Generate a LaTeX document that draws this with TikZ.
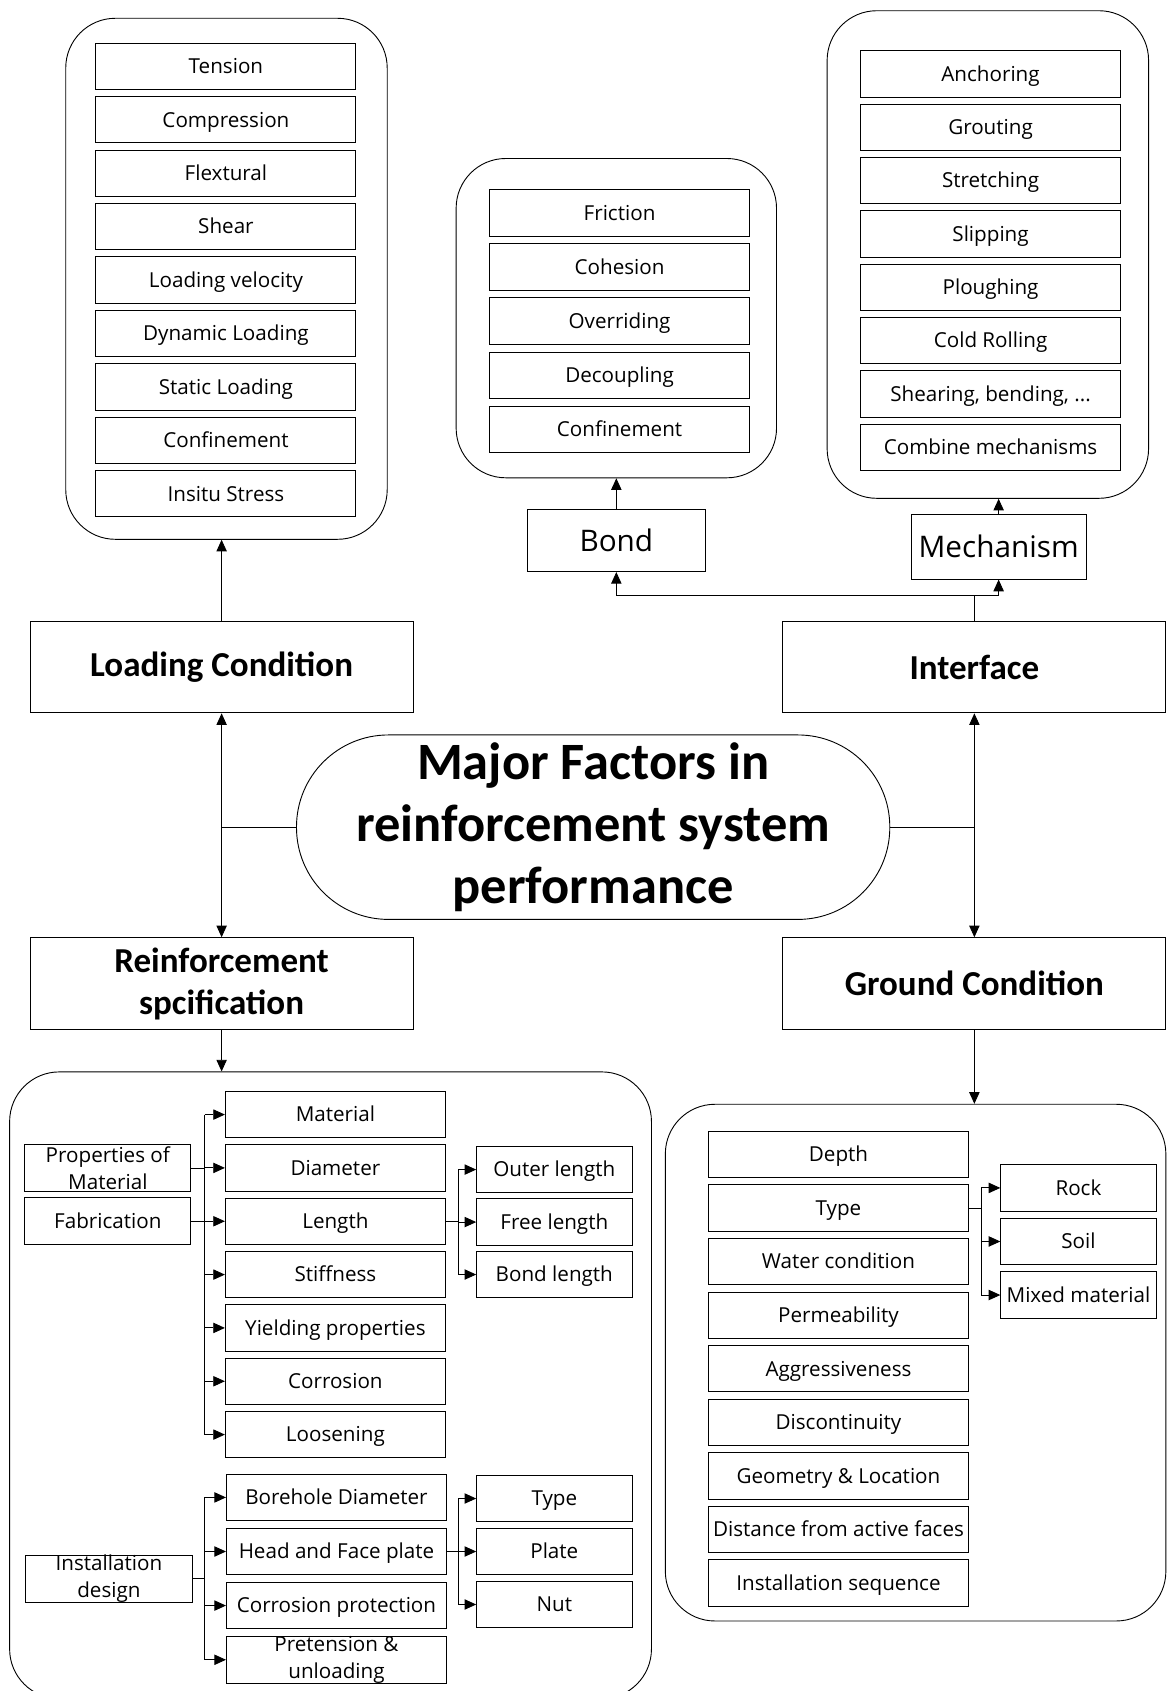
\documentclass[tikz,border=0pt]{standalone}
\usepackage{fontspec}
\setmainfont{Open Sans}
\newfontfamily\headfont{Carlito}
\usetikzlibrary{positioning,arrows.meta}

\begin{document}
\begin{tikzpicture}[x=0.025cm, y=-0.025cm, node distance=0.142cm, line width=0.6pt]
    % Style definitions for the boxes
    \tikzset{listbox/.style={rectangle, draw=black, minimum width=6.025cm, minimum height=1.075cm,
             inner sep=0pt, align=center, text height=9.7pt, text depth=0pt,
             font=\fontsize{13.6}{17.5}\selectfont},
             twoline/.style={text height={}, text depth={}},
             midbox/.style={listbox, minimum width=5.1cm},
             endbox/.style={listbox, minimum width=3.6cm},
             srcbox/.style={listbox, minimum width=3.85cm},
             groupbox/.style={rectangle, rounded corners=1.15cm, draw=black, inner sep=0pt},
             headbox/.style={rectangle, draw=black, minimum width=8.875cm, minimum height=2.125cm,
             align=center, font=\headfont\bfseries\fontsize{23.1}{27.6}\selectfont},
             bigbox/.style={rectangle, draw=black, inner sep=0pt, font=\fontsize{19.6}{23}\selectfont}}
    \tikzstyle{arrow} = [->,>={Triangle[length=0.27cm,width=0.24cm]}]

    \useasboundingbox (0,0) rectangle (1086,1568);

    % Centre
    \node (major) [draw, rounded corners=2.13cm, minimum width=13.75cm, minimum height=4.275cm,
          align=center, inner sep=0pt, font=\headfont\bfseries\fontsize{34.6}{41}\selectfont]
          at (550,767) {Major Factors in\\reinforcement system\\performance};

    % Main factor boxes
    \node (loadc) [headbox] at (205.5,618.5) {Loading Condition};
    \node (intf) [headbox] at (903.5,618.5) {Interface};
    \node (reinf) [headbox] at (205.5,912) {Reinforcement\\spcification};
    \node (grnd) [headbox] at (903.5,912) {Ground Condition};

    % Group frames
    \node (loadgrp) [groupbox, minimum width=7.45cm, minimum height=12.075cm] at (210,258.5) {};
    \node (bondgrp) [groupbox, minimum width=7.425cm, minimum height=7.4cm] at (571.5,295) {};
    \node (mechgrp) [groupbox, minimum width=7.45cm, minimum height=11.3cm] at (916,236) {};
    \node (reingrp) [groupbox, minimum width=14.875cm, minimum height=14.525cm] at (306.5,1284.5) {};
    \node (grndgrp) [groupbox, minimum width=11.6cm, minimum height=11.975cm] at (849,1263.5) {};

    % Loading condition list
    \node (ten) [listbox] at (209.5,61.5) {Tension};
    \node (comp) [listbox, below=of ten] {Compression};
    \node (flex) [listbox, below=of comp] {Flextural};
    \node (shear) [listbox, below=of flex] {Shear};
    \node (lvel) [listbox, below=of shear] {Loading velocity};
    \node (dyn) [listbox, below=of lvel] {Dynamic Loading};
    \node (stat) [listbox, below=of dyn] {Static Loading};
    \node (conf) [listbox, below=of stat] {Confinement};
    \node (insitu) [listbox, below=of conf] {Insitu Stress};

    % Bond list
    \node (bond) [bigbox, minimum width=4.125cm, minimum height=1.45cm] at (571.5,501) {Bond};
    \node (fric) [listbox] at (574.5,197.5) {Friction};
    \node (coh) [listbox, below=0.157cm of fric] {Cohesion};
    \node (over) [listbox, below=0.157cm of coh] {Overriding};
    \node (dec) [listbox, below=0.157cm of over] {Decoupling};
    \node (bconf) [listbox, below=0.157cm of dec] {Confinement};

    % Mechanism list
    \node (mech) [bigbox, minimum width=4.05cm, minimum height=1.5cm] at (926,507) {Mechanism};
    \node (anch) [listbox] at (918.5,68.5) {Anchoring};
    \node (grout) [listbox, below=0.14cm of anch] {Grouting};
    \node (stret) [listbox, below=0.14cm of grout] {Stretching};
    \node (slip) [listbox, below=0.14cm of stret] {Slipping};
    \node (plough) [listbox, below=0.14cm of slip] {Ploughing};
    \node (cold) [listbox, below=0.14cm of plough] {Cold Rolling};
    \node (shbend) [listbox, below=0.14cm of cold] {Shearing, bending, ...};
    \node (combi) [listbox, below=0.14cm of shbend] {Combine mechanisms};

    % Reinforcement specification
    \node (prop) [srcbox, twoline] at (100,1083) {Properties of\\Material};
    \node (fabr) [srcbox, below=0.132cm of prop] {Fabrication};
    \node (mat) [midbox] at (311,1033.5) {Material};
    \node (diam) [midbox, below=0.14cm of mat] {Diameter};
    \node (len) [midbox, below=0.14cm of diam] {Length};
    \node (stiff) [midbox, below=0.14cm of len] {Stiffness};
    \node (yield) [midbox, below=0.14cm of stiff] {Yielding properties};
    \node (corr) [midbox, below=0.14cm of yield] {Corrosion};
    \node (loos) [midbox, below=0.14cm of corr] {Loosening};
    \node (outl) [endbox] at (514,1084.5) {Outer length};
    \node (freel) [endbox, below=0.12cm of outl] {Free length};
    \node (bondl) [endbox, below=0.12cm of freel] {Bond length};

    \node (inst) [srcbox, twoline] at (101,1464) {Installation\\design};
    \node (bore) [midbox] at (312,1388.5) {Borehole Diameter};
    \node (head) [midbox, below=0.157cm of bore] {Head and Face plate};
    \node (cprot) [midbox, below=0.157cm of head] {Corrosion protection};
    \node (pret) [midbox, twoline, below=0.157cm of cprot] {Pretension \&\\unloading};
    \node (ptype) [endbox] at (514,1389.5) {Type};
    \node (plate) [endbox, below=0.132cm of ptype] {Plate};
    \node (nut) [endbox, below=0.132cm of plate] {Nut};

    % Ground condition list
    \node (depth) [listbox] at (777.5,1070.5) {Depth};
    \node (gtype) [listbox, below=0.145cm of depth] {Type};
    \node (water) [listbox, below=0.145cm of gtype] {Water condition};
    \node (perm) [listbox, below=0.145cm of water] {Permeability};
    \node (aggr) [listbox, below=0.145cm of perm] {Aggressiveness};
    \node (disc) [listbox, below=0.145cm of aggr] {Discontinuity};
    \node (geom) [listbox, below=0.145cm of disc] {Geometry \& Location};
    \node (dist) [listbox, below=0.145cm of geom] {Distance from active faces};
    \node (seq) [listbox, below=0.145cm of dist] {Installation sequence};
    \node (rock) [endbox] at (1000,1101.5) {Rock};
    \node (soil) [endbox, below=0.145cm of rock] {Soil};
    \node (mixed) [endbox, below=0.145cm of soil] {Mixed material};

    % Bus points
    \coordinate (split) at (903.5,552);
    \coordinate (busA) at (190,0);
    \coordinate (busB) at (425,0);
    \coordinate (busC) at (910,0);

    % Centre links
    \draw (major.west) -- (loadc.south |- major.west);
    \draw (major.east) -- (intf.south |- major.east);
    \draw [arrow, <->] (loadc.south) -- (reinf.north);
    \draw [arrow, <->] (intf.south) -- (grnd.north);

    % Arrows to the groups
    \draw [arrow] (loadc.north) -- (loadc.north |- loadgrp.south);
    \draw [arrow] (bond.north) -- (bond.north |- bondgrp.south);
    \draw [arrow] (mech.north) -- (mech.north |- mechgrp.south);
    \draw [arrow] (reinf.south) -- (reinf.south |- reingrp.north);
    \draw [arrow] (grnd.south) -- (grnd.south |- grndgrp.north);
    \draw (intf.north) -- (split);
    \draw [arrow] (split) -| (bond.south);
    \draw [arrow] (split) -| (mech.south);

    % Reinforcement branches
    \draw (prop.east) -- (busA |- prop.east);
    \draw (fabr.east) -- (busA |- fabr.east);
    \draw (busA |- mat.west) -- (busA |- loos.west);
    \draw [arrow] (busA |- mat.west) -- (mat.west);
    \draw [arrow] (busA |- diam.west) -- (diam.west);
    \draw [arrow] (busA |- len.west) -- (len.west);
    \draw [arrow] (busA |- stiff.west) -- (stiff.west);
    \draw [arrow] (busA |- yield.west) -- (yield.west);
    \draw [arrow] (busA |- corr.west) -- (corr.west);
    \draw [arrow] (busA |- loos.west) -- (loos.west);

    \draw (len.east) -- (busB |- len.east);
    \draw (busB |- outl.west) -- (busB |- bondl.west);
    \draw [arrow] (busB |- outl.west) -- (outl.west);
    \draw [arrow] (busB |- freel.west) -- (freel.west);
    \draw [arrow] (busB |- bondl.west) -- (bondl.west);

    \draw (inst.east) -- (busA |- inst.east);
    \draw (busA |- bore.west) -- (busA |- pret.west);
    \draw [arrow] (busA |- bore.west) -- (bore.west);
    \draw [arrow] (busA |- head.west) -- (head.west);
    \draw [arrow] (busA |- cprot.west) -- (cprot.west);
    \draw [arrow] (busA |- pret.west) -- (pret.west);

    \draw (head.east) -- (busB |- head.east);
    \draw (busB |- ptype.west) -- (busB |- nut.west);
    \draw [arrow] (busB |- ptype.west) -- (ptype.west);
    \draw [arrow] (busB |- plate.west) -- (plate.west);
    \draw [arrow] (busB |- nut.west) -- (nut.west);

    % Ground type branches
    \draw (gtype.east) -- (busC |- gtype.east);
    \draw (busC |- rock.west) -- (busC |- mixed.west);
    \draw [arrow] (busC |- rock.west) -- (rock.west);
    \draw [arrow] (busC |- soil.west) -- (soil.west);
    \draw [arrow] (busC |- mixed.west) -- (mixed.west);
\end{tikzpicture}
\end{document}
